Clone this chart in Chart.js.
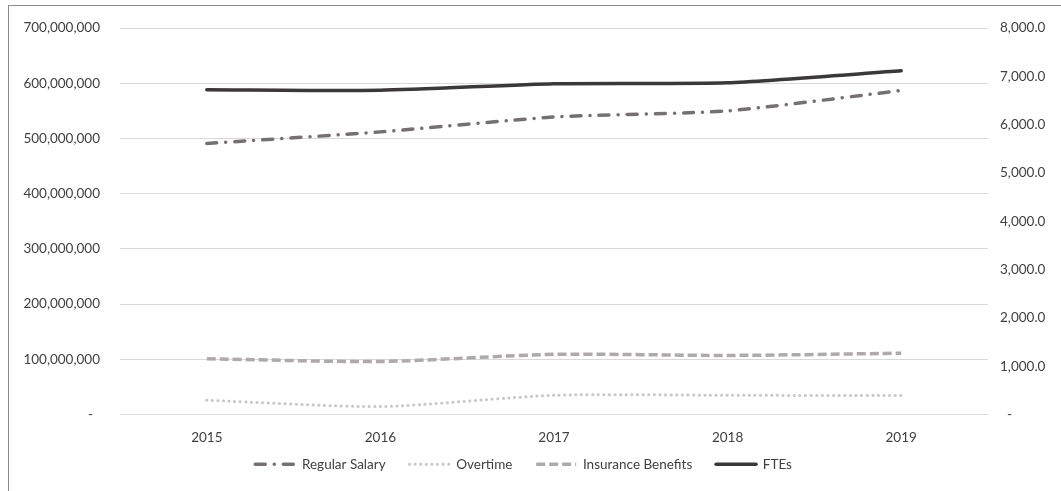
<!DOCTYPE html>
<html>
<head>
<meta charset="utf-8">
<script src="https://cdn.jsdelivr.net/npm/chart.js@4"></script>
<style>
  html, body { margin: 0; padding: 0; background: #fff; overflow: hidden; }
  #wrap { position: relative; width: 1061px; height: 491px; }
  #frame { position: absolute; left: 8px; top: 5px; width: 1100px; height: 600px; border: 1px solid #8c8c8c; pointer-events: none; }
</style>
</head>
<body>
<div id="wrap">
  <canvas id="graph-costs" width="1061" height="491"></canvas>
  <div id="frame"></div>
</div>
<script>
const $graphCosts = document.querySelector("#graph-costs");

const years = ["2015", "2016", "2017", "2018", "2019"];

const regularSalary = [491000000, 512000000, 539000000, 550000000, 587000000];
const overtime = [25800000, 14500000, 34800000, 34800000, 34200000];
const insuranceBenefits = [101000000, 96000000, 109000000, 107000000, 111000000];
const ftes = [6725, 6712, 6848, 6869, 7116];

const textColor = "#404040";
const fontFamily = "Lato, 'Open Sans', sans-serif";

new Chart($graphCosts, {
    type: 'line',
    data: {
        labels: years,
        datasets: [
            {
                label: "Regular Salary",
                data: regularSalary,
                borderColor: '#767171',
                backgroundColor: '#767171',
                borderWidth: 3.5,
                borderDash: [10, 9, 0.1, 9],
                borderCapStyle: 'round',
                tension: 0.2,
                pointRadius: 0,
                yAxisID: 'y'
            },
            {
                label: "Overtime",
                data: overtime,
                borderColor: '#C9C6C6',
                backgroundColor: '#C9C6C6',
                borderWidth: 3,
                borderDash: [0.1, 5.5],
                borderCapStyle: 'round',
                tension: 0.25,
                pointRadius: 0,
                yAxisID: 'y'
            },
            {
                label: "Insurance Benefits",
                data: insuranceBenefits,
                borderColor: '#AEAAAA',
                backgroundColor: '#AEAAAA',
                borderWidth: 3.5,
                borderDash: [9, 4],
                tension: 0.25,
                pointRadius: 0,
                yAxisID: 'y'
            },
            {
                label: "FTEs",
                data: ftes,
                borderColor: '#3B3838',
                backgroundColor: '#3B3838',
                borderWidth: 3.5,
                borderCapStyle: 'round',
                tension: 0.2,
                pointRadius: 0,
                yAxisID: 'y1'
            }
        ]
    },
    options: {
        responsive: false,
        animation: false,
        layout: { padding: { top: 25, left: 0, right: 0, bottom: 10 } },
        plugins: {
            tooltip: { enabled: false },
            legend: {
                position: 'bottom',
                labels: {
                    usePointStyle: true,
                    pointStyle: 'line',
                    pointStyleWidth: 40,
                    boxHeight: 12,
                    padding: 10,
                    color: textColor,
                    font: { family: fontFamily, size: 13.5 },
                    // legend lines take dash and width from the datasets
                    generateLabels: (chart) => {
                        const items = Chart.defaults.plugins.legend.labels.generateLabels(chart);
                        items.forEach((item) => {
                            const ds = chart.data.datasets[item.datasetIndex];
                            item.lineDash = ds.borderDash || [];
                            item.lineWidth = ds.borderWidth;
                            item.lineCap = ds.borderCapStyle || 'butt';
                            item.strokeStyle = ds.borderColor;
                            item.text = ds.label + "    ";
                        });
                        return items;
                    }
                }
            }
        },
        scales: {
            x: {
                offset: true,
                grid: { display: false, drawTicks: false },
                border: { display: false },
                afterFit: (scale) => { scale.height = 33; },
                ticks: { color: textColor, padding: 15, font: { family: fontFamily, size: 13.5 } }
            },
            y: {
                position: 'left',
                min: 0,
                max: 700000000,
                grid: { color: '#D9D9D9', drawTicks: false },
                border: { display: false },
                afterFit: (scale) => { scale.width = 120; },
                ticks: {
                    stepSize: 100000000,
                    padding: 20,
                    color: textColor,
                    font: { family: fontFamily, size: 13.5 },
                    callback: (v) => v === 0 ? "-  " : v.toLocaleString('en-US')
                }
            },
            y1: {
                position: 'right',
                min: 0,
                max: 8000,
                grid: { drawOnChartArea: false, drawTicks: false },
                border: { display: false },
                afterFit: (scale) => { scale.width = 73; },
                ticks: {
                    stepSize: 1000,
                    padding: 12,
                    color: textColor,
                    font: { family: fontFamily, size: 13.5 },
                    callback: (v) => v === 0 ? "  -" : v.toLocaleString('en-US', { minimumFractionDigits: 1, maximumFractionDigits: 1 })
                }
            }
        }
    }
});
</script>
</body>
</html>
